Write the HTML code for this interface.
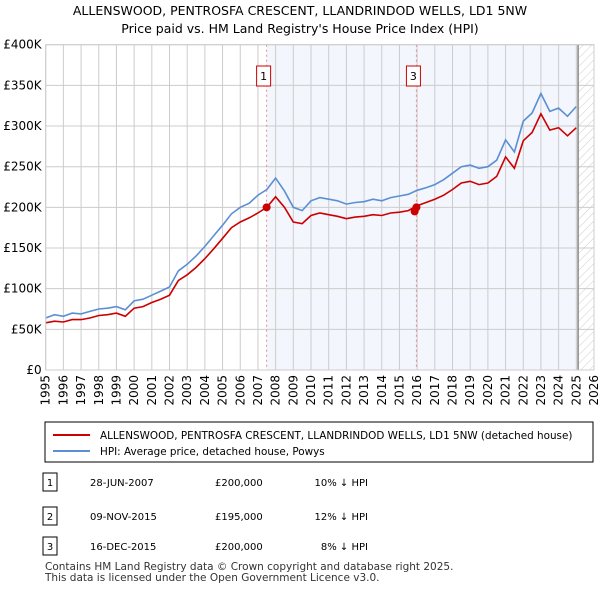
<!DOCTYPE html>
<html><head><meta charset="utf-8"><style>
body{margin:0;background:#fff;font-family:"DejaVu Sans",sans-serif;}
</style></head><body>
<svg width="600" height="590" viewBox="0 0 600 590" xmlns="http://www.w3.org/2000/svg" font-family="DejaVu Sans, sans-serif">
<defs>
<pattern id="hatch" width="6" height="6" patternUnits="userSpaceOnUse" patternTransform="rotate(45)"><line x1="0" y1="0" x2="0" y2="6" stroke="#ccc" stroke-width="1"/></pattern>
</defs>
<text x="300" y="15" font-size="12.5" text-anchor="middle">ALLENSWOOD, PENTROSFA CRESCENT, LLANDRINDOD WELLS, LD1 5NW</text>
<text x="300" y="33" font-size="12.5" text-anchor="middle">Price paid vs. HM Land Registry's House Price Index (HPI)</text>
<g id="plot"></g>
<g id="legend">
<rect x="45" y="422" width="548" height="40" fill="#fff" stroke="#000" stroke-width="1"/>
<line x1="53" y1="435" x2="90" y2="435" stroke="#cc0000" stroke-width="2"/>
<text x="100" y="439" font-size="10.4">ALLENSWOOD, PENTROSFA CRESCENT, LLANDRINDOD WELLS, LD1 5NW (detached house)</text>
<line x1="53" y1="451" x2="90" y2="451" stroke="#5b8fd4" stroke-width="2"/>
<text x="100" y="455" font-size="10.4">HPI: Average price, detached house, Powys</text>
</g>
<g font-size="10">
<rect x="43" y="473" width="14" height="18" fill="#fff" stroke="#000"/><text x="50" y="486" text-anchor="middle">1</text>
<text x="90" y="486">28-JUN-2007</text><text x="215" y="486">£200,000</text><text x="368" y="486" text-anchor="end">10% ↓ HPI</text>
<rect x="43" y="507" width="14" height="18" fill="#fff" stroke="#000"/><text x="50" y="520" text-anchor="middle">2</text>
<text x="90" y="520">09-NOV-2015</text><text x="215" y="520">£195,000</text><text x="368" y="520" text-anchor="end">12% ↓ HPI</text>
<rect x="43" y="537" width="14" height="18" fill="#fff" stroke="#000"/><text x="50" y="550" text-anchor="middle">3</text>
<text x="90" y="550">16-DEC-2015</text><text x="215" y="550">£200,000</text><text x="368" y="550" text-anchor="end">8% ↓ HPI</text>
</g>
<text x="45" y="570" font-size="10.5" fill="#333">Contains HM Land Registry data © Crown copyright and database right 2025.</text>
<text x="45" y="581" font-size="10.5" fill="#333">This data is licensed under the Open Government Licence v3.0.</text>
</svg>
<script>
const years=[1995,1995.5,1996,1996.5,1997,1997.5,1998,1998.5,1999,1999.5,2000,2000.5,2001,2001.5,2002,2002.5,2003,2003.5,2004,2004.5,2005,2005.5,2006,2006.5,2007,2007.5,2008,2008.5,2009,2009.5,2010,2010.5,2011,2011.5,2012,2012.5,2013,2013.5,2014,2014.5,2015,2015.5,2016,2016.5,2017,2017.5,2018,2018.5,2019,2019.5,2020,2020.5,2021,2021.5,2022,2022.5,2023,2023.5,2024,2024.5,2025];
const hpiValues=[64,68,66,70,69,72,75,76,78,74,85,87,92,97,102,122,130,140,152,165,178,192,200,205,215,222,236,220,200,196,208,212,210,208,204,206,207,210,208,212,214,216,221,224,228,234,242,250,252,248,250,258,283,268,306,316,340,318,322,312,324];
const priceValues=[58,60,59,62,62,64,67,68,70,66,76,78,83,87,92,110,117,126,137,149,162,175,182,187,193,200,213,200,182,180,190,193,191,189,186,188,189,191,190,193,194,196,202,206,210,215,222,230,232,228,230,238,262,248,282,292,315,295,298,288,298];
const saleYears=[2007.49,2015.86,2015.96];
const saleValues=[200,195,200];
const saleLabels=["1","2","3"];
const yTicks=[0,50,100,150,200,250,300,350,400];
const yTickLabels=["£0","£50K","£100K","£150K","£200K","£250K","£300K","£350K","£400K"];
const xTicks=[1995,1996,1997,1998,1999,2000,2001,2002,2003,2004,2005,2006,2007,2008,2009,2010,2011,2012,2013,2014,2015,2016,2017,2018,2019,2020,2021,2022,2023,2024,2025,2026];

const L=45.7,R=594,T=44.7,B=370;
const xs=y=>L+(y-1995)*(R-L)/31;
const ys=v=>B-v*(B-T)/400;
const NS="http://www.w3.org/2000/svg";
const g=document.getElementById('plot');
function mk(tag,attrs,parent){const e=document.createElementNS(NS,tag);for(const k in attrs)e.setAttribute(k,attrs[k]);(parent||g).appendChild(e);return e;}

let e=mk('rect',{x:xs(saleYears[0]),y:T,width:xs(2025.1)-xs(saleYears[0]),height:B-T,fill:'#f3f6fd'});


e=mk('rect',{x:xs(2025.1),y:T,width:R-xs(2025.1),height:B-T,fill:'url(#hatch)'});



yTicks.forEach((t,i)=>{
  let l=mk('line',{x1:L,x2:R,y1:ys(t),y2:ys(t),stroke:'#ccc','stroke-width':1});
  
  
  let tx=mk('text',{x:L-4,y:ys(t)+4,'font-size':12,'text-anchor':'end'});
  tx.textContent=yTickLabels[i];
  
  
});
xTicks.forEach(t=>{
  let l=mk('line',{x1:xs(t),x2:xs(t),y1:T,y2:B,stroke:'#ccc','stroke-width':1});
  
  
  let tx=mk('text',{x:0,y:0,'font-size':12,'text-anchor':'end',transform:`translate(${xs(t)+4},${B+5}) rotate(-90)`});
  tx.textContent=t;
  
  
});
e=mk('line',{x1:xs(2025.1),x2:xs(2025.1),y1:T,y2:B,stroke:'#888','stroke-width':1.5});



[0,2].forEach(i=>{
  let l=mk('line',{x1:xs(saleYears[i]),x2:xs(saleYears[i]),y1:T,y2:B,stroke:'#e88','stroke-width':1,'stroke-dasharray':'2,3'});
  
  
  let r=mk('rect',{x:xs(saleYears[i])-10,y:66,width:14,height:20,fill:'#fff',stroke:'#cc0000','stroke-width':1});
  
  
  let tx=mk('text',{x:xs(saleYears[i])-3,y:80,'font-size':11,'text-anchor':'middle'});
  tx.textContent=saleLabels[i];
  
  
});

function pts(vals){return years.map((y,i)=>xs(y).toFixed(1)+','+ys(vals[i]).toFixed(1)).join(' ');}
e=mk('polyline',{points:pts(hpiValues),fill:'none',stroke:'#5b8fd4','stroke-width':1.6});


e=mk('polyline',{points:pts(priceValues),fill:'none',stroke:'#cc0000','stroke-width':1.6});


saleYears.forEach((y,i)=>{
  let c=mk('circle',{cx:xs(y),cy:ys(saleValues[i]),r:4,fill:'#cc0000'});
  
  
});
e=mk('rect',{x:L,y:T,width:R-L,height:B-T,fill:'none',stroke:'#ccc'});


</script>
</body></html>
